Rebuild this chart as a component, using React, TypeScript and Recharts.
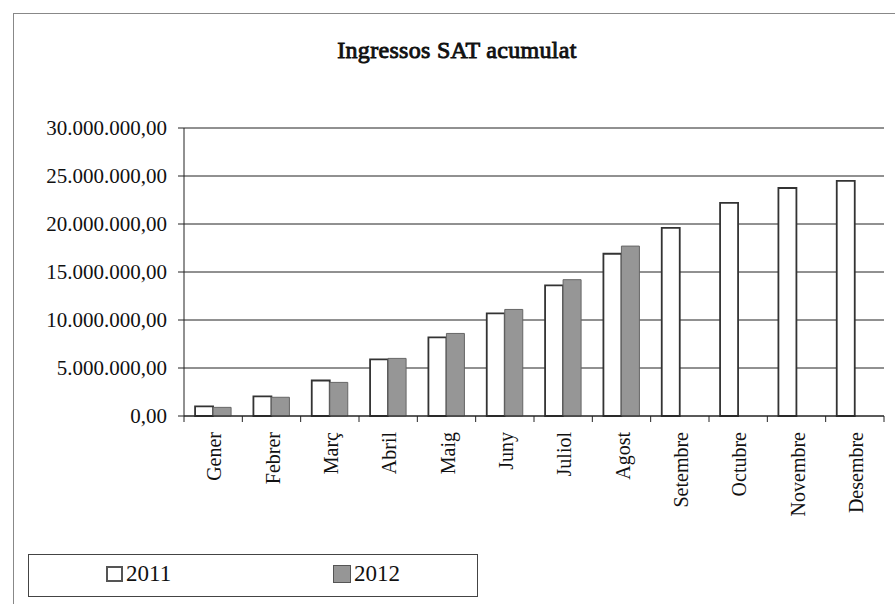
import { BarChart, Bar, XAxis, YAxis, CartesianGrid } from 'recharts';

const MONTHS = ['Gener', 'Febrer', 'Març', 'Abril', 'Maig', 'Juny', 'Juliol', 'Agost', 'Setembre', 'Octubre', 'Novembre', 'Desembre'];
const VALUES_2011 = [1000000, 2050000, 3700000, 5900000, 8200000, 10700000, 13600000, 16900000, 19600000, 22200000, 23750000, 24500000];
const VALUES_2012 = [900000, 1950000, 3500000, 6000000, 8600000, 11100000, 14200000, 17700000, null, null, null, null];
const Y_TICKS = [0, 5000000, 10000000, 15000000, 20000000, 25000000, 30000000];

const FONT = '"Liberation Serif", "Times New Roman", serif';
const GRAY_2012 = '#969696';

const data = MONTHS.map((m, i) => ({ month: m, y2011: VALUES_2011[i], y2012: VALUES_2012[i] }));

// 30000000 -> "30.000.000,00"
const fmt = (v: number) => {
  const s = Math.round(v).toString().replace(/\B(?=(\d{3})+(?!\d))/g, '.');
  return s + ',00';
};

const BAND = 700 / MONTHS.length;

// month label rotated, plus tick marks on the category boundaries (Excel style)
function MonthTick(props: any) {
  const { x, y, payload, index } = props;
  return (
    <g>
      <line x1={x - BAND / 2} y1={y} x2={x - BAND / 2} y2={y + 6} stroke="#222" />
      {index === MONTHS.length - 1 && (
        <line x1={x + BAND / 2} y1={y} x2={x + BAND / 2} y2={y + 6} stroke="#222" />
      )}
      <text
        x={0}
        y={0}
        transform={`translate(${x + 8},${y + 16}) rotate(-90)`}
        textAnchor="end"
        fontFamily={FONT}
        fontSize={20}
        fill="#111"
      >
        {payload.value}
      </text>
    </g>
  );
}

export default function App() {
  return (
    <div style={{ position: 'absolute', left: 0, top: 0, width: 895, height: 604, background: '#fff', fontFamily: FONT }}>
      <div
        style={{
          position: 'absolute', left: 13, top: 13, width: 882, height: 600,
          borderTop: '1px solid #888', borderLeft: '1px solid #888',
        }}
      />
      <div
        style={{
          position: 'absolute', left: 157, width: 600, top: 37, textAlign: 'center',
          fontWeight: 'normal', fontSize: 24, letterSpacing: 0.3, color: '#111', fontFamily: FONT,
          WebkitTextStroke: '0.9px #111', lineHeight: '26px',
        }}
      >
        Ingressos SAT acumulat
      </div>

      <BarChart
        width={895}
        height={604}
        data={data}
        margin={{ top: 128, right: 11, left: 0, bottom: 0 }}
        barCategoryGap="19%"
        barGap={0}
        style={{ position: 'absolute', left: 0, top: 0 }}
      >
        <CartesianGrid vertical={false} stroke="#222" strokeWidth={1} />
        <XAxis
          dataKey="month"
          height={188}
          interval={0}
          tickLine={false}
          tickSize={0}
          tickMargin={0}
          axisLine={{ stroke: '#222' }}
          tick={<MonthTick />}
        />
        <YAxis
          width={184}
          domain={[0, 30000000]}
          ticks={Y_TICKS}
          tickFormatter={fmt}
          axisLine={{ stroke: '#222' }}
          tickLine={{ stroke: '#222' }}
          tickSize={6}
          tickMargin={11}
          tick={{ fontFamily: FONT, fontSize: 21, fill: '#111' }}
        />
        <YAxis
          yAxisId="edge"
          orientation="right"
          width={0}
          tick={false}
          tickLine={false}
          axisLine={{ stroke: '#888', strokeDasharray: '2 2' }}
        />
        <Bar dataKey="y2011" name="2011" fill="#ffffff" stroke="#333" strokeWidth={1.8} isAnimationActive={false} />
        <Bar dataKey="y2012" name="2012" fill={GRAY_2012} stroke="#666" strokeWidth={1} isAnimationActive={false} />
      </BarChart>

      <div
        style={{
          position: 'absolute', left: 28, top: 554, width: 450, height: 43,
          border: '1px solid #444', boxSizing: 'border-box', fontSize: 23, color: '#111',
        }}
      >
        <div style={{ position: 'absolute', left: 77, top: 6, display: 'flex', alignItems: 'center' }}>
          <span style={{ display: 'inline-block', width: 13, height: 12, border: '2px solid #555', background: '#fff', marginRight: 3 }} />
          2011
        </div>
        <div style={{ position: 'absolute', left: 304, top: 6, display: 'flex', alignItems: 'center' }}>
          <span style={{ display: 'inline-block', width: 16, height: 16, border: '1px solid #555', background: GRAY_2012, marginRight: 3 }} />
          2012
        </div>
      </div>
    </div>
  );
}
